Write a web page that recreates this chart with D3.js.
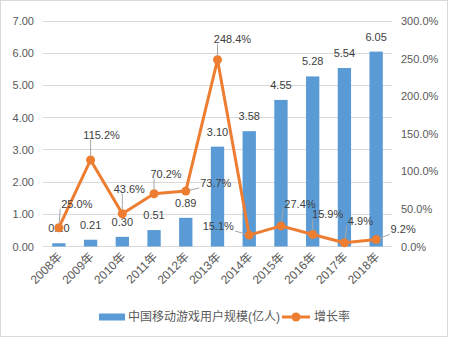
<!DOCTYPE html>
<html><head><meta charset="utf-8">
<script src="https://cdn.jsdelivr.net/npm/d3@7/dist/d3.min.js"></script>
<style>body{margin:0;background:#fff}svg{display:block}</style>
</head><body>
<svg id="c" width="449" height="338"></svg>
<script>
const categories = ["2008年","2009年","2010年","2011年","2012年","2013年","2014年","2015年","2016年","2017年","2018年"];
const users = [0.10,0.21,0.30,0.51,0.89,3.10,3.58,4.55,5.28,5.54,6.05];
const growth = [25.0,115.2,43.6,70.2,73.7,248.4,15.1,27.4,15.9,4.9,9.2];
const leftTicks = [0,1,2,3,4,5,6,7];
const rightTicks = [0,50,100,150,200,250,300];
const seriesNames = ["中国移动游戏用户规模(亿人)","增长率"];
// manual label placement (offset of label centre from point), like the original
const growthLabelOffsets = [[18,-24],[11,-25],[7,-25],[12,-20],[30,-8],[15,-21],[-31,-9],[19,-22],[15,-20],[16,-22],[27,-10]];

const svg = d3.select("#c");
const FONT = "'Liberation Sans','Noto Sans CJK SC',sans-serif";
const TXT = "#595959";
const m = {l:43, r:392, t:21, b:246.5};

svg.append("rect").attr("x",0.5).attr("y",0.5).attr("width",447).attr("height",336)
  .attr("fill","#fff").attr("stroke","#D9D9D9");

const x = d3.scaleBand().domain(categories).range([m.l,m.r]).paddingInner(0.58).paddingOuter(0.29);
const yL = d3.scaleLinear().domain([0,7]).range([m.b,m.t]);
const yR = d3.scaleLinear().domain([0,300]).range([m.b,m.t]);
const cx = c => x(c) + x.bandwidth()/2;

// gridlines
svg.append("g").selectAll("line").data(leftTicks).join("line")
  .attr("x1",m.l).attr("x2",m.r).attr("y1",d=>yL(d)).attr("y2",d=>yL(d))
  .attr("stroke","#D9D9D9").attr("stroke-width",1).attr("shape-rendering","crispEdges");

// left axis
const gl = svg.append("g").attr("transform",`translate(${m.l},0)`)
  .call(d3.axisLeft(yL).tickValues(leftTicks).tickFormat(d3.format(".2f")).tickSize(0).tickPadding(9));
gl.select(".domain").remove();
gl.selectAll("text").attr("fill",TXT).style("font",`11px ${FONT}`);

// right axis
const gr = svg.append("g").attr("transform",`translate(${m.r},0)`)
  .call(d3.axisRight(yR).tickValues(rightTicks).tickFormat(d=>d.toFixed(1)+"%").tickSize(0).tickPadding(9));
gr.select(".domain").remove();
gr.selectAll("text").attr("fill",TXT).style("font",`11px ${FONT}`);

// x axis
const gx = svg.append("g").attr("transform",`translate(0,${m.b})`)
  .call(d3.axisBottom(x).tickSize(0).tickPadding(0));
gx.select(".domain").remove();
gx.selectAll("text").attr("fill",TXT).style("font",`12px ${FONT}`)
  .attr("text-anchor","end").attr("dy","0").attr("transform","translate(4,11) rotate(-45)");

// bars
svg.append("g").selectAll("rect").data(users).join("rect")
  .attr("x",(d,i)=>x(categories[i])).attr("width",x.bandwidth())
  .attr("y",d=>yL(d)).attr("height",d=>m.b-yL(d)).attr("fill","#5B9BD5");

// bar labels
svg.append("g").selectAll("text").data(users).join("text")
  .attr("x",(d,i)=>cx(categories[i])).attr("y",d=>yL(d)-11)
  .attr("text-anchor","middle").attr("fill","#404040").style("font",`11px ${FONT}`)
  .text(d=>d.toFixed(2));

// line
const line = d3.line().x((d,i)=>cx(categories[i])).y(d=>yR(d));
svg.append("path").datum(growth).attr("d",line).attr("fill","none")
  .attr("stroke","#ED7D31").attr("stroke-width",3).attr("stroke-linejoin","round");
svg.append("g").selectAll("circle").data(growth).join("circle")
  .attr("cx",(d,i)=>cx(categories[i])).attr("cy",d=>yR(d)).attr("r",4.5).attr("fill","#ED7D31");

// growth labels with leader lines
const lg = svg.append("g");
growth.forEach((v,i)=>{
  const px = cx(categories[i]), py = yR(v);
  const [dx,dy] = growthLabelOffsets[i];
  const tx = px+dx, ty = py+dy;
  const t = lg.append("text").attr("x",tx).attr("y",ty).attr("dy","0.35em")
    .attr("text-anchor","middle").attr("fill","#404040").style("font",`11px ${FONT}`)
    .text(v.toFixed(1)+"%");
  const bb = t.node().getBBox();
  const ex = Math.max(bb.x-1, Math.min(px, bb.x+bb.width+1));
  const ey = Math.max(bb.y+1, Math.min(py, bb.y+bb.height-1));
  const L = Math.hypot(ex-px, ey-py);
  if (L > 8) {
    const sx = px + (ex-px)/L*4, sy = py + (ey-py)/L*4;
    lg.append("line").attr("x1",sx).attr("y1",sy).attr("x2",ex).attr("y2",ey)
      .attr("stroke","#A6A6A6").attr("stroke-width",1);
  }
});

// legend
const leg = svg.append("g");
leg.append("rect").attr("x",99).attr("y",313.5).attr("width",26).attr("height",7).attr("fill","#5B9BD5");
leg.append("text").attr("x",128).attr("y",317).attr("dy","0.35em").attr("fill",TXT)
  .style("font",`12px ${FONT}`).text(seriesNames[0]);
leg.append("line").attr("x1",282).attr("x2",310).attr("y1",317).attr("y2",317)
  .attr("stroke","#ED7D31").attr("stroke-width",3);
leg.append("circle").attr("cx",296).attr("cy",317).attr("r",4.5).attr("fill","#ED7D31");
leg.append("text").attr("x",314).attr("y",317).attr("dy","0.35em").attr("fill",TXT)
  .style("font",`12px ${FONT}`).text(seriesNames[1]);
</script>
</body></html>
